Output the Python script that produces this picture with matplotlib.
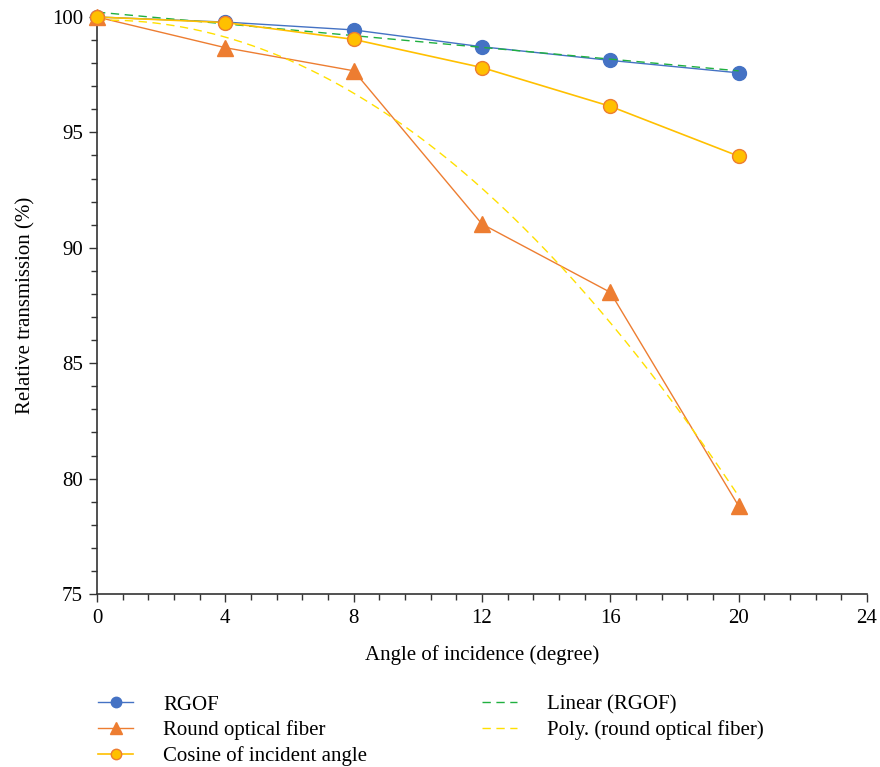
import numpy as np
import matplotlib
matplotlib.use("Agg")
import matplotlib.pyplot as plt
from matplotlib.ticker import MultipleLocator

plt.rcParams['font.family'] = ['Liberation Serif', 'DejaVu Serif']

angles = [0, 4, 8, 12, 16, 20]
rgof = [100.0, 99.78, 99.44, 98.71, 98.12, 97.58]
round_fiber = [100.0, 98.67, 97.67, 91.03, 88.07, 78.81]
cosine = [100.0, 99.76, 99.03, 97.81, 96.13, 93.97]

x_ticks = [0, 4, 8, 12, 16, 20, 24]
y_ticks = [75, 80, 85, 90, 95, 100]

fig = plt.figure(figsize=(8.8, 7.67), dpi=100)
ax = fig.add_axes([97/880, 1-594/767, (867-97)/880, (594-17)/767])

c_blue = '#4472C4'
c_orange = '#ED7D31'
c_yellow = '#FFC000'
c_green = '#20B040'
c_ptrend = '#FFE000'

x = np.array(angles, dtype=float)
xs = np.linspace(0, 20, 200)
lin = np.polyfit(x, rgof, 1)
poly = np.polyfit(x, round_fiber, 2)

l1, = ax.plot(angles, rgof, color=c_blue, lw=1.0, marker='o', ms=10,
              mfc=c_blue, mec=c_blue, label='RGOF', zorder=3, clip_on=False)
l2, = ax.plot(angles, round_fiber, color=c_orange, lw=1.0, marker='^', ms=11,
              mfc=c_orange, mec=c_orange, label='Round optical fiber', zorder=3, clip_on=False)
l3, = ax.plot(angles, cosine, color=c_yellow, lw=1.2, marker='o', ms=10,
              mfc=c_yellow, mec=c_orange, mew=1.0, label='Cosine of incident angle',
              zorder=4, clip_on=False)
l4, = ax.plot(xs, np.polyval(lin, xs), color=c_green, lw=1.0, ls=(0, (6, 4)),
              label='Linear (RGOF)', zorder=3.5, clip_on=False)
l5, = ax.plot(xs, np.polyval(poly, xs), color=c_ptrend, lw=1.0, ls=(0, (6, 4)),
              label='Poly. (round optical fiber)', zorder=3.5, clip_on=False)

ax.set_xlim(0, 24)
ax.set_ylim(75, 100)
ax.set_xticks(x_ticks)
ax.set_yticks(y_ticks)
ax.xaxis.set_minor_locator(MultipleLocator(0.8))
ax.yaxis.set_minor_locator(MultipleLocator(1))
for s in ['top', 'right']:
    ax.spines[s].set_visible(False)
for s in ['left', 'bottom']:
    ax.spines[s].set_color('#333333')
    ax.spines[s].set_linewidth(1.2)
ax.tick_params(which='major', length=6, width=1.0, color='#333333', labelsize=15, pad=4)
ax.tick_params(which='minor', length=4, width=1.0, color='#333333')
ax.tick_params(axis='x', pad=5)

ax.set_xlabel('Angle of incidence (degree)', fontsize=15, labelpad=12)
ax.set_ylabel('Relative transmission (%)', fontsize=15, labelpad=12)

common = dict(loc='upper left', frameon=False, fontsize=15, markerscale=0.75,
              handlelength=1.68, handletextpad=1.44, labelspacing=0.28,
              borderpad=0, borderaxespad=0)
leg1 = fig.legend(handles=[l1, l2, l3], bbox_to_anchor=(98/880, 1-695/767), **common)
leg2 = fig.legend(handles=[l4, l5], bbox_to_anchor=(482/880, 1-695/767), **common)

fig.savefig('out.png', dpi=100)
